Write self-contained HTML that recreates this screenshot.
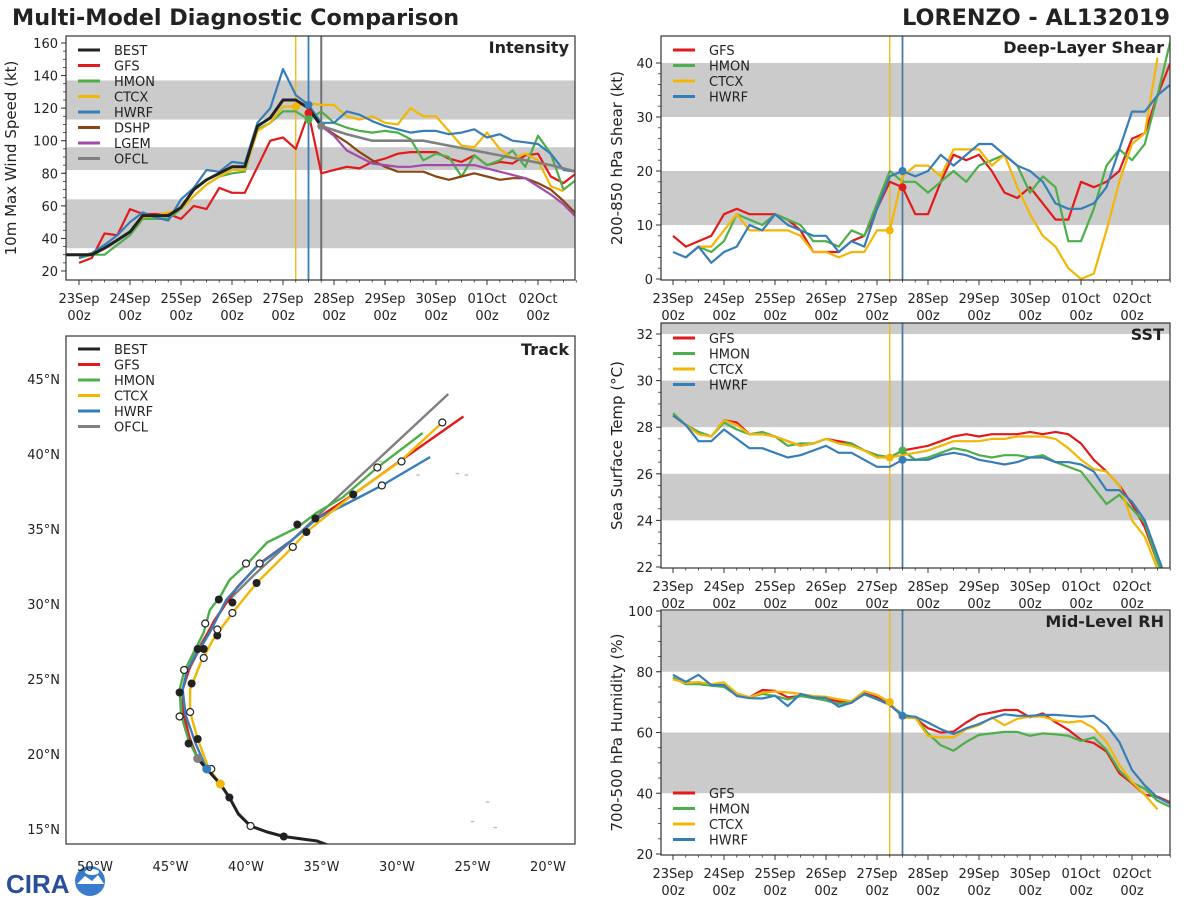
<!DOCTYPE html>
<html><head><meta charset="utf-8"><style>
html,body{margin:0;padding:0;background:#fff;}
svg{display:block;font-family:"DejaVu Sans","Liberation Sans",sans-serif;}
</style></head><body>
<svg id="fig" width="1200" height="900" viewBox="0 0 1200 900" xmlns="http://www.w3.org/2000/svg">
<text x="12" y="25" font-size="22.3" font-weight="bold" fill="#222">Multi-Model Diagnostic Comparison</text>
<text x="1170" y="25" font-size="22.3" font-weight="bold" fill="#222" text-anchor="end">LORENZO - AL132019</text>
<g>
<text x="6" y="893" font-size="26" font-weight="bold" fill="#2a4f9a" font-family="Liberation Sans, sans-serif">CIRA</text>
<circle cx="90" cy="881" r="15" fill="#3a7ccc"/>
<path d="M77 884 L85 876 L92 881 L98 875 L104 884 Z" fill="#fff"/>
<ellipse cx="92" cy="872" rx="7" ry="3" fill="#fff"/>
</g>
</svg>
<script>
// ---------- DATA ----------
const dayLabels = ["23Sep","24Sep","25Sep","26Sep","27Sep","28Sep","29Sep","30Sep","01Oct","02Oct"];
const intTicks = [20,40,60,80,100,120,140,160];
const shearTicks = [0,10,20,30,40];
const sstTicks = [22,24,26,28,30,32];
const rhTicks = [20,40,60,80,100];

const intBest = [30,30,30,34,39,44,54,54,54,59,70,76,80,84,84,109,114,125,125,120,109]; // starts i=-1
const intGfs = [25,28,43,42,58,55,55,55,52,60,58,71,68,68,84,100,102,95,117,80,82,84,83,87,89,92,93,93,93,89,87,91,85,87,86,91,92,78,74,80];
const intHmon = [28,30,30,36,42,52,52,52,58,66,73,78,80,81,107,111,118,118,113,118,111,108,106,105,106,105,101,88,92,90,78,91,85,88,94,84,103,92,70,76];
const intCtcx = [29,31,34,39,44,53,54,56,58,66,73,78,82,82,106,111,121,121,123,122,122,115,113,115,111,110,120,115,115,106,97,96,105,95,89,92,88,72,69];
const intHwrf = [28,31,36,42,50,56,53,51,64,71,82,81,87,86,111,120,144,128,122,111,111,118,116,112,109,107,105,106,106,104,105,107,102,104,100,99,98,92,82,81];
const intDshp = [109,104,99,93,88,84,81,81,81,78,76,78,80,78,76,77,77,74,70,63,55]; // starts i=19
const intLgem = [109,103,94,90,86,85,84,84,85,85,85,85,85,83,81,79,77,72,67,61,53]; // starts i=19
const intOfcl = [109,104,100,100,100,97,94,91,88,85,81]; // 12-hourly from i=19

const shGfs = [8,6,7,8,12,13,12,12,12,11,9,5,5,5,7,8,13,18,17,12,12,18,23,22,23,20,16,15,17,14,11,11,18,17,18,20,26,27,34,40];
const shHmon = [4,6,5,7,12,11,10,12,11,10,7,7,6,9,8,14,20,18,18,16,18,20,18,21,22,23,21,16,19,17,7,7,13,21,24,22,25,34,44]; // i=1
const shCtcx = [4,6,6,9,12,9,9,9,9,8,5,5,4,5,5,9,9,19,21,21,19,24,24,24,21,23,17,12,8,6,2,0,1,9,18,25,27,41]; // i=1
const shHwrf = [5,4,6,3,5,6,10,9,12,10,9,8,8,5,7,6,13,19,20,19,20,23,21,23,25,25,23,21,20,18,14,13,13,14,17,24,31,31,34,36];

const sstGfs = [28.5,28.1,27.8,27.6,28.3,28.2,27.7,27.7,27.6,27.4,27.2,27.3,27.5,27.4,27.3,27.0,26.8,26.7,27.0,27.1,27.2,27.4,27.6,27.7,27.6,27.7,27.7,27.7,27.8,27.7,27.8,27.7,27.3,26.6,26.1,25.5,24.7,23.7,22.2,21.0];
const sstHmon = [28.6,28.1,27.8,27.6,28.2,27.9,27.7,27.8,27.6,27.2,27.3,27.3,27.5,27.3,27.3,27.0,26.8,26.7,27.0,26.6,26.7,26.9,27.1,27.0,26.8,26.7,26.8,26.8,26.7,26.8,26.5,26.3,26.1,25.4,24.7,25.1,24.5,23.9,22.2,21.0];
const sstCtcx = [28.5,28.1,27.7,27.6,28.3,28.1,27.7,27.7,27.6,27.4,27.2,27.3,27.5,27.3,27.2,27.0,26.7,26.7,26.8,26.9,27.0,27.2,27.4,27.4,27.4,27.5,27.5,27.6,27.6,27.6,27.5,27.1,26.6,26.2,26.1,25.5,24.0,23.3,21.9,21.0];
const sstHwrf = [28.5,28.1,27.4,27.4,27.9,27.5,27.1,27.1,26.9,26.7,26.8,27.0,27.2,26.9,26.9,26.6,26.3,26.3,26.6,26.6,26.6,26.8,26.9,26.8,26.6,26.5,26.4,26.5,26.7,26.7,26.5,26.5,26.4,26.1,25.3,25.3,24.8,24.0,22.5,21.0];

const rhGfs = [77.6,76.7,76.2,75.6,75.1,72.4,71.6,74.0,73.7,71.6,72.0,71.6,71.3,70.2,69.8,72.9,71.6,69.1,65.5,64.7,61.4,60.0,60.3,63.3,65.8,66.6,67.4,67.4,65.0,66.3,63.4,60.9,57.6,56.5,53.7,46.6,43.3,39.5,38.9,37.0];
const rhHmon = [78.1,75.9,75.9,75.4,75.0,72.2,71.6,72.7,72.0,70.9,72.0,71.3,70.5,69.4,70.0,72.5,70.9,69.1,66.0,64.9,59.7,55.8,54.0,56.9,59.2,59.7,60.2,60.2,58.9,59.7,59.4,58.9,57.2,58.4,54.3,47.5,43.5,41.5,37.5,35.5];
const rhCtcx = [77.5,76.3,76.6,75.9,76.5,72.9,71.6,73.1,73.5,73.2,72.7,72.0,71.8,70.9,70.3,73.6,72.4,70.0,64.7,64.9,58.8,58.4,58.4,61.1,62.4,64.9,62.4,64.5,65.2,65.2,64.0,63.3,63.8,61.4,56.9,49.3,43.8,39.5,34.7];
const rhHwrf = [79.0,76.7,79.0,75.6,75.6,72.0,71.3,71.2,72.1,68.7,72.7,71.6,71.4,68.5,69.8,72.7,71.0,69.1,65.5,65.2,63.3,61.1,59.5,61.4,62.8,64.7,66.0,65.5,65.5,65.8,65.8,65.5,65.2,65.5,62.4,56.9,47.7,42.6,38.6,36.5];

// Track data: [lon (deg W), lat (deg N)]
const lonTicks = [50,45,40,35,30,25,20];
const latTicks = [15,20,25,30,35,40,45];
const trkBest = [[34.5,13.9],[35.3,14.2],[37.5,14.5],[38.6,14.8],[39.7,15.2],[40.5,16.0],[41.1,17.1],[41.7,18.0],[42.6,19.0],[43.2,19.7]];
const trkGfs = [[43.2,19.7],[43.7,20.9],[44.1,22.6],[44.2,24.3],[43.8,25.6],[42.1,28.9],[40.6,31.1],[39.1,32.7],[36.9,34.3],[35.3,35.7],[32.9,37.3],[29.7,39.6],[25.6,42.5]];
const trkHmon = [[43.2,19.7],[43.8,20.9],[44.3,22.6],[44.4,24.3],[44.1,25.5],[43.5,26.7],[42.8,28.1],[42.4,29.6],[41.7,30.5],[41.1,31.6],[39.9,32.7],[38.6,34.1],[36.6,35.1],[35.3,36.1],[33.6,37.1],[31.3,39.1],[28.3,41.4]];
const trkCtcx = [[41.7,18.0],[42.5,19.1],[43.2,21.0],[43.7,22.8],[43.7,24.3],[43.0,26.1],[42.2,27.6],[40.9,29.4],[39.3,31.4],[36.9,33.8],[36.0,34.8],[32.9,37.3],[29.8,39.5],[27.0,42.1]];
const trkHwrf = [[42.6,19.0],[43.3,20.6],[44.0,22.6],[44.2,24.3],[43.9,25.6],[42.4,28.1],[41.3,30.3],[39.3,32.5],[36.9,34.3],[35.3,35.7],[33.3,36.7],[31.0,37.9],[27.8,39.8]];
const trkOfcl = [[43.2,19.7],[43.8,21.3],[44.2,22.8],[44.2,24.3],[43.7,25.8],[43.5,26.5],[41.3,30.1],[39.5,31.9],[36.9,34.3],[34.6,36.5],[26.6,44.0]];
const trkFilled = [[37.5,14.5],[41.1,17.1],[43.6,24.7],[44.4,24.1],[43.2,21.0],[43.8,20.7],[43.2,27.0],[42.8,27.0],[41.9,27.9],[41.8,30.3],[40.9,30.1],[39.3,31.4],[36.6,35.3],[36.0,34.8],[35.4,35.7],[32.9,37.3]];
const trkOpen = [[39.7,15.2],[42.3,19.0],[44.1,25.6],[43.7,22.8],[44.4,22.5],[42.8,26.4],[42.7,28.7],[41.9,28.3],[40.9,29.4],[40.0,32.7],[39.1,32.7],[36.9,33.8],[31.3,39.1],[31.0,37.9],[29.7,39.5],[27.0,42.1]];

// ---------- DRAWING ----------
const NS = "http://www.w3.org/2000/svg";
const fig = document.getElementById("fig");
const C = {BEST:"#222222",GFS:"#e31a1c",HMON:"#4daf4a",CTCX:"#f2b705",HWRF:"#377eb8",DSHP:"#8b4513",LGEM:"#a04ca8",OFCL:"#808080"};
function mk(tag, attrs, parent){
  const e = document.createElementNS(NS, tag);
  for (const k in attrs) e.setAttribute(k, attrs[k]);
  (parent||fig).appendChild(e);
  return e;
}
function txt(str, attrs, parent){ const e = mk("text", attrs, parent); e.textContent = str; return e; }

function timePanel(o){
  const g = mk("g", {});
  
  
  const X = i => o.x0 + (o.t0 - o.bx0) + 12.75*i;
  const Y = v => o.yb - (v - o.vmin)*o.ppu;
  const clipId = o.name + "-clip";
  const cp = mk("clipPath", {id: clipId}, g);
  mk("rect", {x:o.bx0, y:o.by0, width:o.bx1-o.bx0, height:o.by1-o.by0}, cp);
  o.bands.forEach(b => {
    const r = mk("rect", {x:o.bx0, y:Y(b[1]), width:o.bx1-o.bx0, height:Y(b[0])-Y(b[1]), fill:"#cbcbcb", "clip-path":"url(#"+clipId+")"}, g);
    
    
  });
  o.vlines.forEach(v => {
    const l = mk("line", {x1:X(v[0]), x2:X(v[0]), y1:o.by0, y2:o.by1, stroke:v[1], "stroke-width":v[2]||1.3}, g);
    
    
  });
  const lg = mk("g", {"clip-path":"url(#"+clipId+")"}, g);
  o.series.forEach(s => {
    const step = s.step || 1;
    const pts = s.data.map((v,k) => X(s.start + k*step).toFixed(1)+","+Y(v).toFixed(1)).join(" ");
    const p = mk("polyline", {points:pts, fill:"none", stroke:C[s.key], "stroke-width":s.w||2.2, "stroke-linejoin":"round"}, lg);
    
    
  });
  (o.dots||[]).forEach(d => {
    const s = o.series.find(q => q.key === d[0]);
    const k = (d[1] - s.start)/(s.step||1);
    const c = mk("circle", {cx:X(d[1]), cy:Y(s.data[k]), r:4, fill:C[d[0]]}, lg);
    
    
  });
  const fr = mk("rect", {x:o.bx0, y:o.by0, width:o.bx1-o.bx0, height:o.by1-o.by0, fill:"none", stroke:"#333", "stroke-width":1.2}, g);
  
  
  o.yticks.forEach(v => {
    mk("line", {x1:o.bx0-5, x2:o.bx0, y1:Y(v), y2:Y(v), stroke:"#333"}, g);
    const t = txt(String(v), {x:o.bx0-8, y:Y(v)+5, "font-size":13, "text-anchor":"end", fill:"#222"}, g);
    
    
  });
  for (let v = o.yticks[0]; v <= o.yticks[o.yticks.length-1]; v += o.minor) {
    if (Y(v) >= o.by0 && Y(v) <= o.by1) mk("line", {x1:o.bx0-3, x2:o.bx0, y1:Y(v), y2:Y(v), stroke:"#333", "stroke-width":0.8}, g);
  }
  dayLabels.forEach((d,k) => {
    const x = X(k*4);
    mk("line", {x1:x, x2:x, y1:o.by1, y2:o.by1+5, stroke:"#333"}, g);
    const t = txt(d, {x:x, y:o.by1+23, "font-size":13, "text-anchor":"middle", fill:"#222"}, g);
    
    
    const t2 = txt("00z", {x:x, y:o.by1+40, "font-size":13, "text-anchor":"middle", fill:"#222"}, g);
    
    
  });
  for (let i = 0; i <= 39; i++) { if (i % 4) mk("line", {x1:X(i), x2:X(i), y1:o.by1, y2:o.by1+2.5, stroke:"#333", "stroke-width":0.8}, g); }
  const cy = (o.by0+o.by1)/2;
  const yt = txt(o.ylabel, {x:o.ylx, y:cy, "font-size":15, "text-anchor":"middle", fill:"#222", transform:"rotate(-90 "+o.ylx+" "+cy+")"}, g);
  
  
  const pt = txt(o.title, {x:o.bx1-6, y:o.by0+17, "font-size":16, "font-weight":"bold", "text-anchor":"end", fill:"#222"}, g);
  
  
  o.legend.forEach((k,n) => {
    const y = o.legY + n*15.5;
    const lgE = mk("g", {}, g);
    
    
    mk("line", {x1:o.bx0+12, x2:o.bx0+34, y1:y, y2:y, stroke:C[k], "stroke-width":3}, lgE);
    txt(k, {x:o.bx0+48, y:y+5, "font-size":13, fill:"#222"}, lgE);
  });
}

timePanel({name:"intensity-panel", bx0:66, bx1:575, by0:36, by1:280, x0:66, t0:79, yb:271, vmin:20, ppu:228/140,
  bands:[[34,64],[82,96],[113,137]], vlines:[[17,C.CTCX,1.3],[18,C.HWRF,1.8],[19,"#707070",2]],
  series:[{key:"GFS",start:0,data:intGfs},{key:"HMON",start:0,data:intHmon},{key:"CTCX",start:0,data:intCtcx},{key:"HWRF",start:0,data:intHwrf},
          {key:"DSHP",start:19,data:intDshp},{key:"LGEM",start:19,data:intLgem},{key:"OFCL",start:19,step:2,data:intOfcl,w:2.6},{key:"BEST",start:-1,data:intBest,w:3}],
  dots:[["CTCX",17],["HWRF",18],["GFS",18],["HMON",18],["OFCL",19]],
  yticks:intTicks, minor:5, ylabel:"10m Max Wind Speed (kt)", ylx:16, title:"Intensity",
  legend:["BEST","GFS","HMON","CTCX","HWRF","DSHP","LGEM","OFCL"], legY:50});

timePanel({name:"shear-panel", bx0:661, bx1:1170, by0:36, by1:280, x0:661, t0:673, yb:279, vmin:0, ppu:5.4,
  bands:[[10,20],[30,40]], vlines:[[17,C.CTCX,1.3],[18,"#4f79a0",1.8]],
  series:[{key:"GFS",start:0,data:shGfs},{key:"HMON",start:1,data:shHmon},{key:"CTCX",start:1,data:shCtcx},{key:"HWRF",start:0,data:shHwrf}],
  dots:[["CTCX",17],["GFS",18],["HWRF",18]],
  yticks:shearTicks, minor:2, ylabel:"200-850 hPa Shear (kt)", ylx:622, title:"Deep-Layer Shear",
  legend:["GFS","HMON","CTCX","HWRF"], legY:50});

timePanel({name:"sst-panel", bx0:661, bx1:1170, by0:323, by1:568, x0:661, t0:673, yb:567, vmin:22, ppu:23.3,
  bands:[[24,26],[28,30],[32,33]], vlines:[[17,C.CTCX,1.3],[18,"#4f79a0",1.8]],
  series:[{key:"GFS",start:0,data:sstGfs},{key:"HMON",start:0,data:sstHmon},{key:"CTCX",start:0,data:sstCtcx},{key:"HWRF",start:0,data:sstHwrf}],
  dots:[["CTCX",17],["HMON",18],["HWRF",18]],
  yticks:sstTicks, minor:0.5, ylabel:"Sea Surface Temp (°C)", ylx:622, title:"SST",
  legend:["GFS","HMON","CTCX","HWRF"], legY:338});

timePanel({name:"rh-panel", bx0:661, bx1:1170, by0:610, by1:855, x0:661, t0:673, yb:854, vmin:20, ppu:3.0375,
  bands:[[40,60],[80,100]], vlines:[[17,C.CTCX,1.3],[18,"#4f79a0",1.8]],
  series:[{key:"GFS",start:0,data:rhGfs},{key:"HMON",start:0,data:rhHmon},{key:"CTCX",start:0,data:rhCtcx},{key:"HWRF",start:0,data:rhHwrf}],
  dots:[["CTCX",17],["HWRF",18]],
  yticks:rhTicks, minor:5, ylabel:"700-500 hPa Humidity (%)", ylx:622, title:"Mid-Level RH",
  legend:["GFS","HMON","CTCX","HWRF"], legY:793});

// ---------- TRACK ----------
(function(){
  const g = mk("g", {});
  
  
  const bx0=66,bx1=575,by0=336,by1=844;
  const X = lon => 95 + (50 - lon)*15.1;
  const Y = lat => 379 + (45 - lat)*15;
  const cp = mk("clipPath", {id:"trk-clip"}, g);
  mk("rect", {x:bx0, y:by0, width:bx1-bx0, height:by1-by0}, cp);
  const lg = mk("g", {"clip-path":"url(#trk-clip)"}, g);
  [[26,38.7],[25.4,38.6],[31.1,39.5],[28.6,38.6],[16.9,32.8],[16.3,33.0],[24,16.8],[23.5,15.1],[25,15.5]].forEach(p => {
    const isl = mk("ellipse", {cx:X(p[0]), cy:Y(p[1]), rx:2, ry:0.8, fill:"#bbb"}, lg);
    
    
  });
  const tracks = [["OFCL",trkOfcl],["GFS",trkGfs],["HMON",trkHmon],["HWRF",trkHwrf],["CTCX",trkCtcx],["BEST",trkBest]];
  tracks.forEach(t => {
    const pts = t[1].map(p => X(p[0]).toFixed(1)+","+Y(p[1]).toFixed(1)).join(" ");
    const pl = mk("polyline", {points:pts, fill:"none", stroke:C[t[0]], "stroke-width":t[0]==="BEST"?3:2.4, "stroke-linejoin":"round"}, lg);
    
    
  });
  trkFilled.forEach(p => {
    const c = mk("circle", {cx:X(p[0]), cy:Y(p[1]), r:4, fill:"#222"}, lg);
    
    
  });
  trkOpen.forEach(p => {
    const c = mk("circle", {cx:X(p[0]), cy:Y(p[1]), r:3.5, fill:"#fff", stroke:"#222", "stroke-width":1.2}, lg);
    
    
  });
  [["CTCX",trkCtcx],["HWRF",trkHwrf],["OFCL",trkOfcl]].forEach(t => {
    const c = mk("circle", {cx:X(t[1][0][0]), cy:Y(t[1][0][1]), r:4.5, fill:C[t[0]]}, lg);
    
    
  });
  const fr = mk("rect", {x:bx0, y:by0, width:bx1-bx0, height:by1-by0, fill:"none", stroke:"#333", "stroke-width":1.2}, g);
  
  
  lonTicks.forEach(l => {
    const t = txt(l + "°W", {x:X(l), y:871, "font-size":13, "text-anchor":"middle", fill:"#222"}, g);
    
    
  });
  latTicks.forEach(l => {
    const t = txt(l + "°N", {x:60, y:Y(l)+5, "font-size":13, "text-anchor":"end", fill:"#222"}, g);
    
    
  });
  const pt = txt("Track", {x:bx1-6, y:by0+19, "font-size":16, "font-weight":"bold", "text-anchor":"end", fill:"#222"}, g);
  
  
  ["BEST","GFS","HMON","CTCX","HWRF","OFCL"].forEach((k,n) => {
    const y = 349 + n*15.5;
    const e = mk("g", {}, g);
    
    
    mk("line", {x1:78, x2:100, y1:y, y2:y, stroke:C[k], "stroke-width":3}, e);
    txt(k, {x:114, y:y+5, "font-size":13, fill:"#222"}, e);
  });
})();
</script>
</body></html>
